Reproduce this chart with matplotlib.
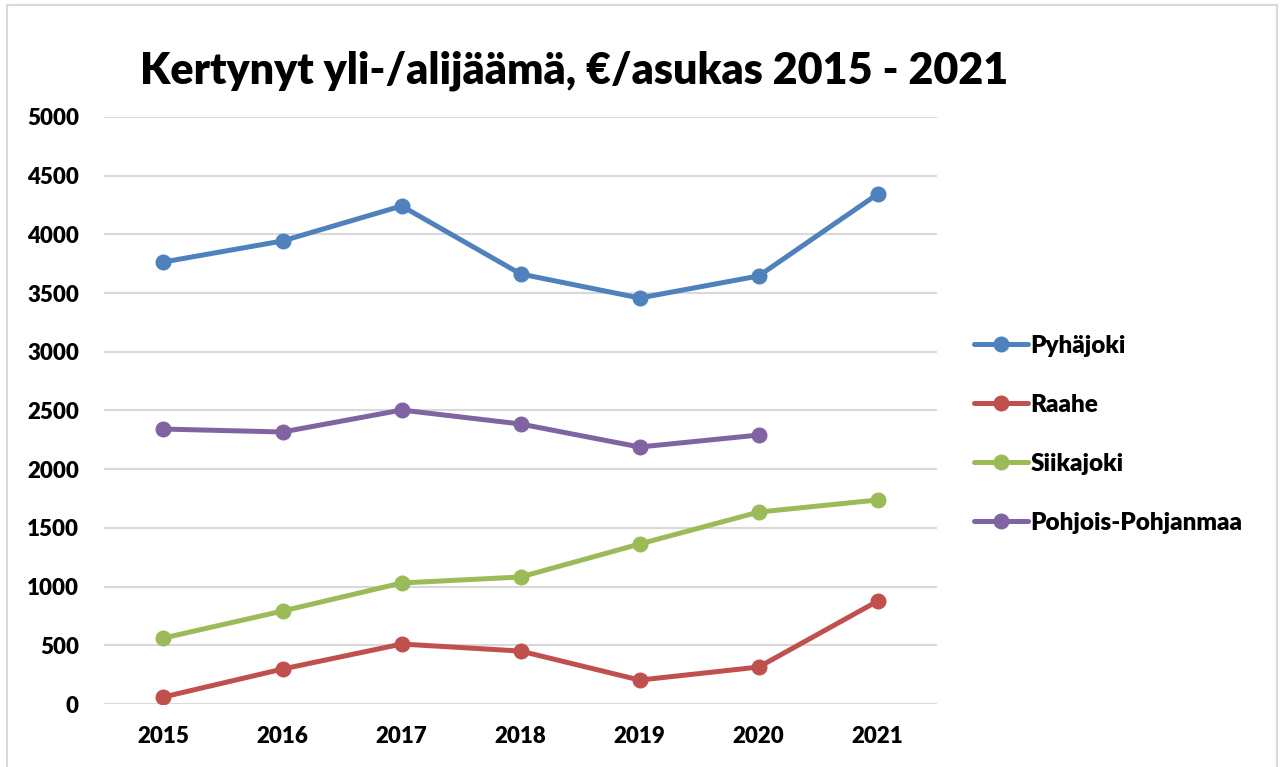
import matplotlib.pyplot as plt
from matplotlib.patches import Rectangle

plt.rcParams['font.family'] = ['Lato', 'DejaVu Sans']
plt.rcParams['font.weight'] = 'heavy'

years = [2015, 2016, 2017, 2018, 2019, 2020, 2021]
pyhajoki = [3765, 3944, 4242, 3663, 3458, 3646, 4344]
raahe = [60, 298, 511, 451, 204, 315, 877]
siikajoki = [562, 792, 1031, 1082, 1363, 1635, 1738]
pohjois = [2342, 2317, 2504, 2385, 2189, 2291]

names = ['Pyhäjoki', 'Raahe', 'Siikajoki', 'Pohjois-Pohjanmaa']
colors = ['#4F81BD', '#C0504D', '#9BBB59', '#8064A2']

fig = plt.figure(figsize=(12.82, 7.67), dpi=100)
ax = fig.add_axes([0.0811, 0.0821, 0.65, 0.7654])

series = [pyhajoki, raahe, siikajoki, pohjois]
for vals, name, col in zip(series, names, colors):
    ax.plot(years[:len(vals)], vals, color=col, lw=3.6, marker='o', ms=10.5,
            label=name, solid_capstyle='round')

ax.set_xlim(2014.5, 2021.5)
ax.set_ylim(0, 5000)
ax.set_yticks(range(0, 5001, 500))
ax.set_xticks(years)
ax.grid(axis='y', color='#D9D9D9', lw=1.5)
ax.set_axisbelow(True)
for s in ax.spines.values():
    s.set_visible(False)
ax.tick_params(length=0, labelsize=16)
ax.tick_params(axis='y', pad=18)
ax.tick_params(axis='x', pad=16)
for lab in ax.get_xticklabels() + ax.get_yticklabels():
    lab.set_fontweight('heavy')

fig.text(0.448, 0.908, 'Kertynyt yli-/alijäämä, €/asukas 2015 - 2021',
         ha='center', va='center', fontsize=31, fontweight='heavy')

leg = fig.legend(loc='upper left', bbox_to_anchor=(0.743, 0.592), frameon=False,
                 fontsize=17.5, labelspacing=1.52, handlelength=2.2, handletextpad=0.1)
for t in leg.get_texts():
    t.set_fontweight('heavy')

fig.patches.append(Rectangle((0.0055, -0.01), 0.9905, 1.003, transform=fig.transFigure,
                             fill=False, edgecolor='#D9D9D9', lw=1.5))

fig.savefig('out.png', dpi=100)
